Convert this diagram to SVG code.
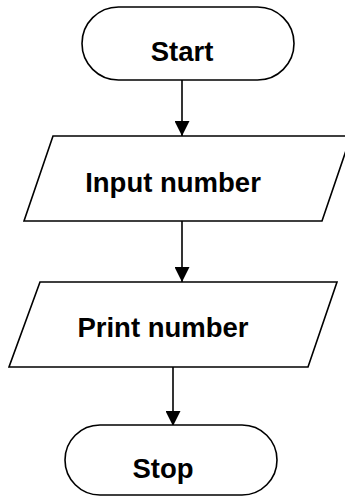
<svg xmlns="http://www.w3.org/2000/svg" width="345" height="497" viewBox="0 0 345 497">
  <style>
    .shape { fill: #ffffff; stroke: #000000; stroke-width: 1.6; }
    .label { font-family: "Liberation Sans", Arial, sans-serif; font-weight: bold; font-size: 27.5px; fill: #000000; text-anchor: middle; }
    .flow { stroke: #000000; stroke-width: 1.6; fill: none; marker-end: url(#arrow); }
  </style>
  <defs>
    <marker id="arrow" markerWidth="15" markerHeight="15" refX="15" refY="7.5" orient="auto" markerUnits="userSpaceOnUse">
      <path d="M0,0 L15,7.5 L0,15 Z" fill="#000000"/>
    </marker>
  </defs>
  <rect width="345" height="497" fill="#ffffff"/>

  <g id="connectors">
    <line class="flow" x1="182" y1="80" x2="182" y2="136"/>
    <line class="flow" x1="182" y1="221" x2="182" y2="282"/>
    <line class="flow" x1="173" y1="367" x2="173" y2="426"/>
  </g>

  <g id="start">
    <rect class="shape" x="82" y="7" width="212" height="73" rx="36.5" ry="36.5"/>
    <text class="label" x="182" y="61">Start</text>
  </g>

  <g id="input">
    <polygon class="shape" points="53,136 351,136 322,221 24,221"/>
    <text class="label" x="173" y="192">Input number</text>
  </g>

  <g id="print">
    <polygon class="shape" points="40,282 337,282 308,367 9,367"/>
    <text class="label" x="163" y="337">Print number</text>
  </g>

  <g id="stop">
    <rect class="shape" x="65" y="425" width="212" height="70" rx="35" ry="35"/>
    <text class="label" x="163" y="478">Stop</text>
  </g>
</svg>
